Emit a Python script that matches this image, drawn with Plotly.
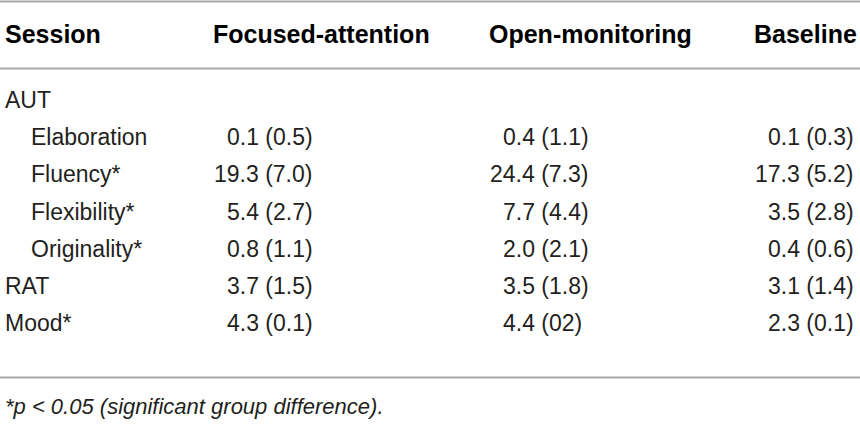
import plotly.graph_objects as go

# table contents
col_headers = ["Session", "Focused-attention", "Open-monitoring", "Baseline"]
row_labels = ["AUT", "Elaboration", "Fluency*", "Flexibility*", "Originality*", "RAT", "Mood*"]
row_indent = [0, 1, 1, 1, 1, 0, 0]
focused = ["", "0.1 (0.5)", "19.3 (7.0)", "5.4 (2.7)", "0.8 (1.1)", "3.7 (1.5)", "4.3 (0.1)"]
open_mon = ["", "0.4 (1.1)", "24.4 (7.3)", "7.7 (4.4)", "2.0 (2.1)", "3.5 (1.8)", "4.4 (02)"]
baseline = ["", "0.1 (0.3)", "17.3 (5.2)", "3.5 (2.8)", "0.4 (0.6)", "3.1 (1.4)", "2.3 (0.1)"]
footnote = "*p < 0.05 (significant group difference)."

W, H = 860, 424
head_x = [3, 211, 487, 752]
head_y = 34
row_y0, row_step = 100, 37.2
indent_px = 26
digit_px = 12.8
rule_color = "#a6a6a6"
body_font = dict(family="Liberation Sans", size=23, color="#231f20")
head_font = dict(family="Liberation Sans", size=25, color="#000000", weight="bold")

annotations = []
for x, h in zip(head_x, col_headers):
    annotations.append(dict(x=x, y=head_y, text=h, xanchor="left", yanchor="middle",
                            showarrow=False, font=head_font))

for i, lab in enumerate(row_labels):
    y = row_y0 + row_step * i
    annotations.append(dict(x=head_x[0] + indent_px * row_indent[i], y=y, text=lab,
                            xanchor="left", yanchor="middle", showarrow=False, font=body_font))
    for col, vals in enumerate([focused, open_mon, baseline], start=1):
        v = vals[i]
        if not v:
            continue
        # keep the decimal points lined up: single-digit means shift by one figure
        pad = digit_px if len(v.split(".")[0]) == 1 else 0
        annotations.append(dict(x=head_x[col] + 1 + pad, y=y, text=v, xanchor="left",
                                yanchor="middle", showarrow=False, font=body_font))

annotations.append(dict(x=3, y=406, text=footnote, xanchor="left", yanchor="middle",
                        showarrow=False,
                        font=dict(family="Liberation Sans", size=22, color="#231f20", style="italic")))

shapes = []
for yy in [1.5, 68.5, 377.5]:
    shapes.append(dict(type="line", xref="paper", yref="y", x0=0, x1=1, y0=yy, y1=yy,
                       line=dict(color=rule_color, width=2)))

fig = go.Figure()
fig.update_layout(
    width=W, height=H,
    margin=dict(l=0, r=0, t=0, b=0),
    paper_bgcolor="white", plot_bgcolor="white",
    xaxis=dict(range=[0, W], visible=False, fixedrange=True),
    yaxis=dict(range=[H, 0], visible=False, fixedrange=True),
    annotations=annotations,
    shapes=shapes,
    showlegend=False,
)

fig.write_html("out.html", config={"displayModeBar": False},
               post_script="document.body.style.margin='0';document.body.style.overflow='hidden';")
